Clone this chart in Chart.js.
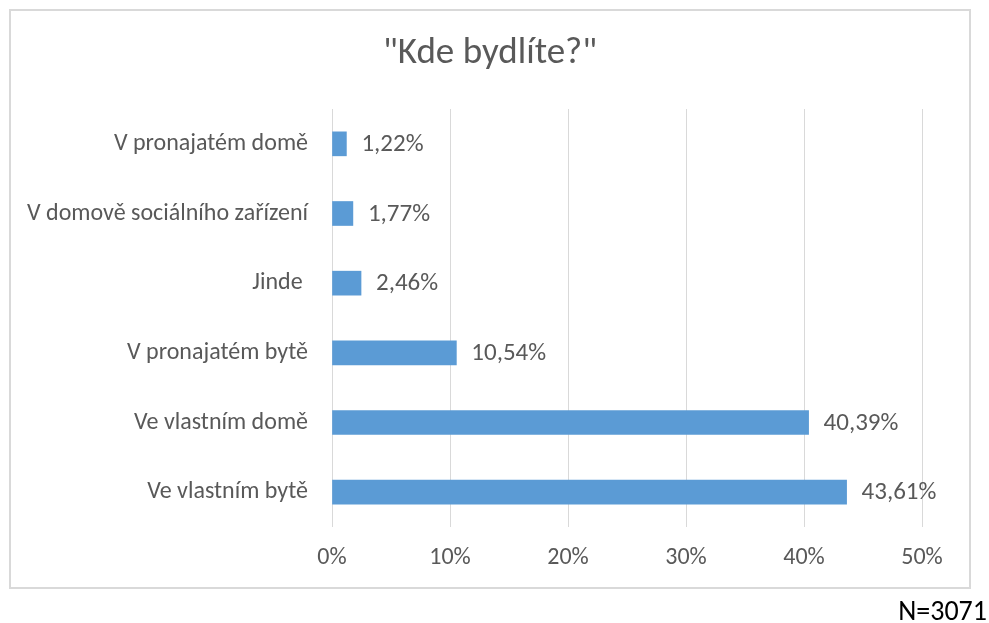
<!DOCTYPE html>
<html>
<head>
<meta charset="utf-8">
<script src="https://cdn.jsdelivr.net/npm/chart.js@4"></script>
<style>
  html, body { margin: 0; padding: 0; background: #ffffff; overflow: hidden; }
  #wrap { position: relative; width: 989px; height: 623px; overflow: hidden; }
  #note {
    position: absolute; right: 2px; top: 597px;
    font-family: Carlito, Lato, sans-serif; font-size: 28px; color: #000000;
    line-height: 28px; white-space: nowrap;
  }
</style>
</head>
<body>
<div id="wrap">
  <canvas id="chart" width="989" height="623"></canvas>
  <div id="note">N=3071</div>
</div>
<script>
// Survey answers, listed top to bottom
const categories = [
  "V pronajatém domě",
  "V domově sociálního zařízení",
  "Jinde ",
  "V pronajatém bytě",
  "Ve vlastním domě",
  "Ve vlastním bytě"
];
const shares = [1.22, 1.77, 2.46, 10.54, 40.39, 43.61];
const tickValues = [0, 10, 20, 30, 40, 50];
const chartTitle = "\"Kde bydlíte?\"";

const FONT = "Carlito, Lato, sans-serif";
const TEXT = "#595959";
const GRID = "#d9d9d9";

const fmtPct = v => v.toFixed(2).replace(".", ",") + "%";

// Light frame around the whole chart, plus the heading centred in it
const framePlugin = {
  id: "frame",
  beforeDraw(chart) {
    const ctx = chart.ctx;
    ctx.save();
    ctx.strokeStyle = GRID;
    ctx.lineWidth = 2;
    ctx.strokeRect(10, 10, 960, 578);
    ctx.font = "37px " + FONT;
    ctx.fillStyle = TEXT;
    ctx.textAlign = "center";
    ctx.textBaseline = "middle";
    ctx.fillText(chartTitle, 490, 54);
    ctx.restore();
  }
};

// Value labels just right of each bar
const valueLabels = {
  id: "valueLabels",
  afterDatasetsDraw(chart) {
    const ctx = chart.ctx;
    const meta = chart.getDatasetMeta(0);
    ctx.save();
    ctx.font = "25px " + FONT;
    ctx.fillStyle = TEXT;
    ctx.textAlign = "left";
    ctx.textBaseline = "middle";
    meta.data.forEach((bar, i) => {
      ctx.fillText(fmtPct(shares[i]), bar.x + 15, bar.y + 1);
    });
    ctx.restore();
  }
};

new Chart(document.getElementById("chart"), {
  type: "bar",
  data: {
    labels: categories,
    datasets: [{
      data: shares,
      backgroundColor: "#5b9bd5",
      borderWidth: 0,
      barThickness: 24
    }]
  },
  options: {
    indexAxis: "y",
    responsive: false,
    animation: false,
    layout: { padding: { left: 10, right: 67, top: 109, bottom: 0 } },
    plugins: {
      legend: { display: false },
      tooltip: { enabled: false },
      title: { display: false }
    },
    scales: {
      x: {
        min: 0,
        max: 50,
        afterBuildTicks(scale) {
          scale.ticks = tickValues.map(v => ({ value: v }));
        },
        ticks: {
          color: TEXT,
          font: { family: FONT, size: 24 },
          padding: 17,
          callback: v => v + "%"
        },
        grid: { color: GRID, lineWidth: 1, drawTicks: false },
        border: { display: false },
        afterFit(scale) { scale.height = 96; }
      },
      y: {
        ticks: {
          color: TEXT,
          font: { family: FONT, size: 24 },
          padding: 24
        },
        grid: { display: false, drawTicks: false },
        border: { display: false },
        afterFit(scale) { scale.width = 322; }
      }
    }
  },
  plugins: [framePlugin, valueLabels]
});
</script>
</body>
</html>
